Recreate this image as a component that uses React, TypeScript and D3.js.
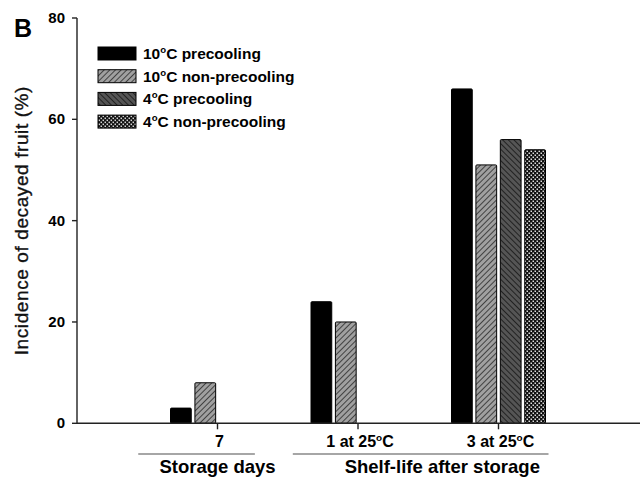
import React from "react";
import * as d3 from "d3";

const categories = ["7", "1 at 25°C", "3 at 25°C"];
const seriesNames = ["10°C precooling", "10°C non-precooling", "4°C precooling", "4°C non-precooling"];
const precool10 = [3, 24, 66];
const nonPrecool10 = [8, 20, 51];
const precool4 = [null, null, 56];
const nonPrecool4 = [null, null, 54];
const yTicks = [0, 20, 40, 60, 80];
const groupLabels = [
  { text: "Storage days", from: 0.5, to: 1.33, center: 1 },
  { text: "Shelf-life after storage", from: 1.6, to: 3.42, center: 2.6 },
];

const seriesValues = [precool10, nonPrecool10, precool4, nonPrecool4];
const fills = ["#000", "url(#hatchUp)", "url(#hatchDown)", "url(#dots)"];
const font = "'Liberation Sans', Arial, sans-serif";

// splits "10°C" so the degree sign becomes a raised small "o"
const Degree = ({ label, size }: { label: string; size: number }) => {
  const parts = label.split("°");
  if (parts.length === 1) return <>{label}</>;
  return (
    <>
      {parts[0]}
      <tspan dy={-size * 0.4} fontSize={size * 0.62}>o</tspan>
      <tspan dy={size * 0.4}>{parts[1]}</tspan>
    </>
  );
};

export default function App() {
  const width = 640;
  const height = 480;
  const x = d3.scaleLinear().domain([0, 4]).range([77, 639]);
  const y = d3.scaleLinear().domain([0, 80]).range([423.3, 18]);
  const inner = d3.scaleBand<number>().domain([0, 1, 2, 3]).range([-47, 47]).paddingInner(0.15);

  return (
    <svg width={width} height={height} style={{ position: "absolute", left: 0, top: 0 }} fontFamily={font}>
      <defs>
        <pattern id="hatchUp" width="4" height="4" patternUnits="userSpaceOnUse" patternTransform="rotate(45)">
          <rect width="4" height="4" fill="#a0a0a0" />
          <line x1="0" y1="0" x2="0" y2="4" stroke="#222" strokeWidth="1.5" />
        </pattern>
        <pattern id="hatchDown" width="4" height="4" patternUnits="userSpaceOnUse" patternTransform="rotate(-45)">
          <rect width="4" height="4" fill="#555" />
          <line x1="0" y1="0" x2="0" y2="4" stroke="#111" strokeWidth="1.5" />
        </pattern>
        <pattern id="dots" width="4" height="4" patternUnits="userSpaceOnUse">
          <rect width="4" height="4" fill="#111" />
          <rect x="0.5" y="0.5" width="1.5" height="1.5" fill="#ddd" />
          <rect x="2.5" y="2.5" width="1.5" height="1.5" fill="#ddd" />
        </pattern>
      </defs>

      <text x={14} y={37} fontSize={25} fontWeight="bold">B</text>

      {/* bars */}
      {categories.map((c, i) =>
        seriesValues.map((vals, s) => {
          const v = vals[i];
          if (v == null) return null;
          const bx = x(i + 1) + (inner(s) as number);
          return (
            <rect key={c + s} x={bx} y={y(v)} width={inner.bandwidth()} height={y(0) - y(v)}
              fill={fills[s]} stroke="#000" strokeWidth={1} rx={1} />
          );
        })
      )}

      {/* y axis */}
      <line x1={77} x2={77} y1={y(80)} y2={y(0)} stroke="#222" strokeWidth={1.4} />
      {yTicks.map((t) => (
        <g key={t}>
          <line x1={72} x2={77} y1={y(t)} y2={y(t)} stroke="#222" strokeWidth={1.4} />
          <text x={65} y={y(t) + 5} fontSize={15} fontWeight="bold" textAnchor="end">{t}</text>
        </g>
      ))}
      <text transform={`translate(28,${y(40)}) rotate(-90)`} fontSize={19} letterSpacing={0.6}
        textAnchor="middle" fill="#111" stroke="#111" strokeWidth={0.35}>
        Incidence of decayed fruit (%)
      </text>

      {/* x axis */}
      <line x1={x(0)} x2={width} y1={y(0)} y2={y(0)} stroke="#222" strokeWidth={1.4} />
      {categories.map((c, i) => (
        <g key={c}>
          <line x1={x(i + 1)} x2={x(i + 1)} y1={y(0)} y2={y(0) + 6} stroke="#222" strokeWidth={1.4} />
          <text x={x(i + 1) + 2} y={447} fontSize={16} fontWeight="bold" textAnchor="middle">
            <Degree label={c} size={16} />
          </text>
        </g>
      ))}
      {groupLabels.map((g) => (
        <g key={g.text}>
          <line x1={x(g.from) - 9} x2={x(g.to) - 9} y1={454} y2={454} stroke="#888" strokeWidth={1.3} />
          <text x={x(g.center)} y={473} fontSize={18.5} fontWeight="bold" textAnchor="middle">{g.text}</text>
        </g>
      ))}

      {/* legend */}
      {seriesNames.map((n, s) => (
        <g key={n} transform={`translate(98,${47 + s * 22.7})`}>
          <rect width={38} height={13} fill={fills[s]} stroke="#000" strokeWidth={1} />
          <text x={45} y={12} fontSize={15.5} fontWeight="bold">
            <Degree label={n} size={15.5} />
          </text>
        </g>
      ))}
    </svg>
  );
}
